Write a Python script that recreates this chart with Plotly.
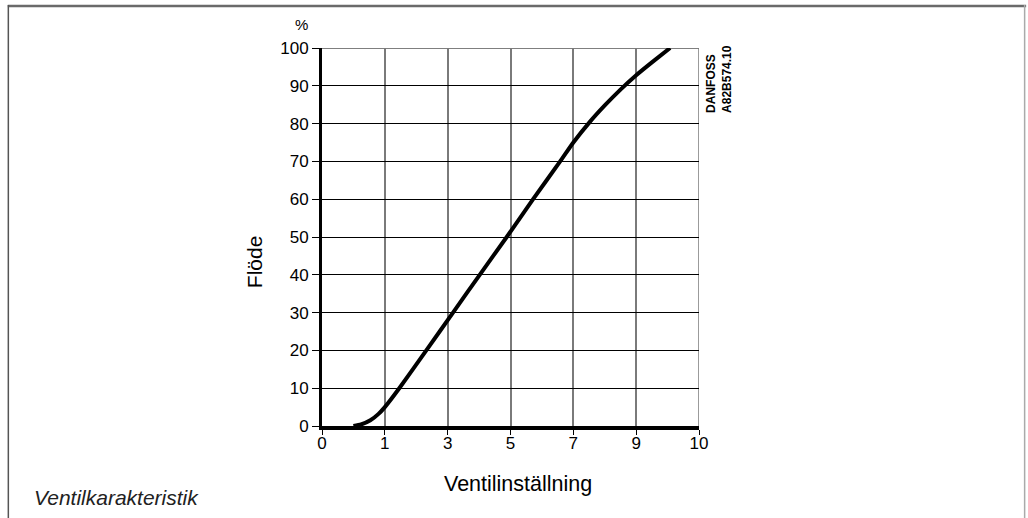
import numpy as np
import plotly.graph_objects as go

# Tick labels on the x axis (equally spaced grid positions)
x_tick_labels = [0, 1, 3, 5, 7, 9, 10]
y_tick_vals = [0, 10, 20, 30, 40, 50, 60, 70, 80, 90, 100]

# Curve: valve setting vs. flow (%)
setting = [0.5, 0.62, 0.77, 0.9, 1.0, 1.46, 2.32, 3.17, 4.02, 4.88, 5.72,
           6.58, 7.0, 7.5, 8.0, 8.5, 9.0, 9.25, 9.54]
flow = [0, 0.4, 1.5, 3.2, 5, 10, 20, 30, 40, 50, 60,
        70, 75, 80.2, 84.8, 89, 92.8, 96.2, 100]

# Map values onto the equally spaced grid positions of the chart's x axis
positions = list(range(len(x_tick_labels)))
x_pos = np.interp(setting, x_tick_labels, positions)

fig = go.Figure()
fig.add_trace(go.Scatter(
    x=x_pos, y=flow, mode="lines",
    line=dict(color="black", width=4, shape="spline", smoothing=0.5),
    hoverinfo="skip", showlegend=False,
))

font_main = "Liberation Sans, Arial, Helvetica, sans-serif"

fig.update_layout(
    width=1028, height=518,
    margin=dict(l=322, r=329, t=48, b=92),
    paper_bgcolor="white", plot_bgcolor="white",
    font=dict(family=font_main, size=17, color="black"),
    xaxis=dict(
        range=[0, 6], tickmode="array", tickvals=positions,
        ticktext=[str(v) for v in x_tick_labels],
        showgrid=True, gridcolor="#7a7a7a", gridwidth=1.5,
        showline=True, linecolor="black", linewidth=4,
        ticks="outside", ticklen=5, tickcolor="black", tickwidth=1,
        ticklabelstandoff=-6,
        zeroline=False, fixedrange=True,
        tickfont=dict(size=17),
    ),
    yaxis=dict(
        range=[0, 100], tickmode="array", tickvals=y_tick_vals,
        showgrid=True, gridcolor="black", gridwidth=1,
        showline=True, linecolor="black", linewidth=3,
        ticks="outside", ticklen=7, tickcolor="black", tickwidth=1,
        zeroline=False, fixedrange=True,
        tickfont=dict(size=17),
    ),
)

# Top grid line at 100 and right border at 10
fig.add_shape(type="line", xref="x", yref="y", x0=0, x1=6, y0=100, y1=100,
              line=dict(color="black", width=1.2), layer="below")
fig.add_shape(type="line", xref="x", yref="y", x0=6, x1=6, y0=0, y1=100,
              line=dict(color="#7a7a7a", width=1.5), layer="below")

# Outer frame (open at bottom)
W, L, T, H = 378.0, 322.0, 48.0, 378.0
def px(x):
    return (x - L) / W
def py(y):
    return (T + H - y) / H
fig.add_shape(type="line", xref="paper", yref="paper", x0=px(7), x1=px(1028), y0=py(6), y1=py(6),
              line=dict(color="#6a6a6a", width=2.5))
fig.add_shape(type="line", xref="paper", yref="paper", x0=px(7.5), x1=px(7.5), y0=py(5), y1=py(530),
              line=dict(color="#555555", width=1.5))
fig.add_shape(type="line", xref="paper", yref="paper", x0=px(1026.5), x1=px(1026.5), y0=py(5), y1=py(530),
              line=dict(color="#aaaaaa", width=1.5))

# Texts
def note(x, y, text, size, angle=0, color="black", xanchor="center", align="center"):
    fig.add_annotation(xref="paper", yref="paper", x=px(x), y=py(y), text=text,
                       xanchor=xanchor, yanchor="middle", align=align,
                       textangle=angle, showarrow=False,
                       font=dict(size=size, family=font_main, color=color))

note(301, 25, "%", 15)
note(254, 262, "Flöde", 21, angle=-90)
note(519, 484, "Ventilinställning", 21.5)
note(31, 497, "<i>Ventilkarakteristik</i>", 21, color="#222222", xanchor="left")
note(720, 79, "<b>DANFOSS</b><br><b>A82B574.10</b>", 12, angle=-90, align="left")

fig.write_html("out.html", config={"displayModeBar": False},
               post_script="document.body.style.margin='0px';")
